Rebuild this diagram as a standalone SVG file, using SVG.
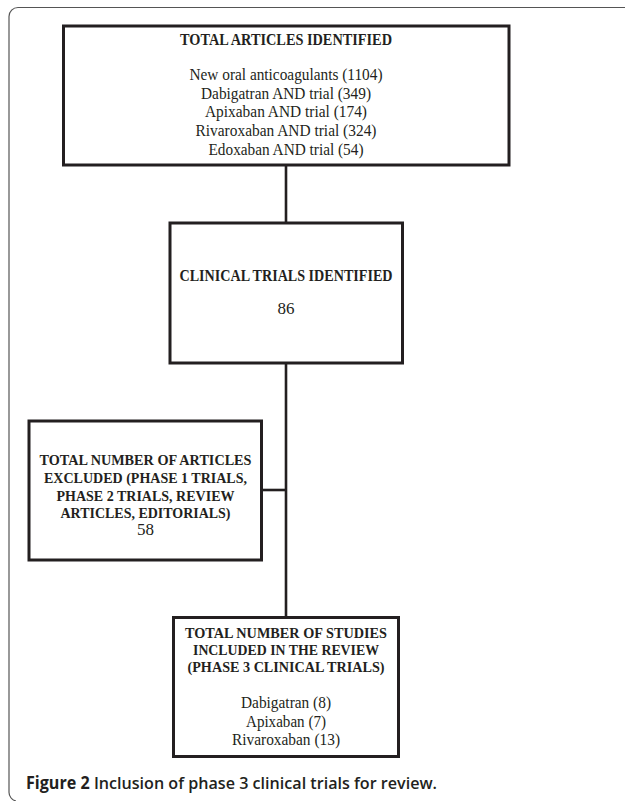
<svg xmlns="http://www.w3.org/2000/svg" width="625" height="801" viewBox="0 0 625 801">
<style>
.box{fill:#fff;stroke:#231f20;stroke-width:3}
.con{fill:none;stroke:#231f20;stroke-width:2.6}
.frame{fill:none;stroke:#555;stroke-width:1.2}
.b{font-family:"Liberation Serif","Times New Roman",serif;font-weight:bold;font-size:17px;fill:#231f20;text-anchor:middle}
.bs{font-size:15.5px}
.r{font-family:"Liberation Serif","Times New Roman",serif;font-size:17px;fill:#231f20;text-anchor:middle}
.cap{font-family:"Open Sans","Noto Sans",sans-serif;font-size:17px;font-weight:600;fill:#231f20}
</style>
<rect width="625" height="801" fill="#fff"/>
<path class="frame" d="M625,7.5 H18 A9,9 0 0 0 9,16.5 V792 A9,9 0 0 0 16,801"/>
<g id="connectors">
<line class="con" x1="286" y1="165" x2="286" y2="223"/>
<line class="con" x1="286" y1="363" x2="286" y2="617"/>
<line class="con" x1="261.5" y1="490" x2="286" y2="490"/>
</g>
<g id="total-articles">
<rect class="box" x="63.5" y="26" width="445.5" height="139"/>
<text class="b" x="286" y="45" textLength="212" lengthAdjust="spacingAndGlyphs">TOTAL ARTICLES IDENTIFIED</text>
<text class="r" x="286" y="80" textLength="193" lengthAdjust="spacingAndGlyphs">New oral anticoagulants (1104)</text>
<text class="r" x="286" y="98.5" textLength="170" lengthAdjust="spacingAndGlyphs">Dabigatran AND trial (349)</text>
<text class="r" x="286" y="117" textLength="162" lengthAdjust="spacingAndGlyphs">Apixaban AND trial (174)</text>
<text class="r" x="286" y="136" textLength="181" lengthAdjust="spacingAndGlyphs">Rivaroxaban AND trial (324)</text>
<text class="r" x="286" y="155" textLength="155" lengthAdjust="spacingAndGlyphs">Edoxaban AND trial (54)</text>
</g>
<g id="clinical-trials">
<rect class="box" x="170" y="223" width="232.5" height="140"/>
<text class="b" x="286" y="281" textLength="213" lengthAdjust="spacingAndGlyphs">CLINICAL TRIALS IDENTIFIED</text>
<text class="r" x="286" y="314">86</text>
</g>
<g id="excluded">
<rect class="box" x="29" y="421" width="232.5" height="139"/>
<text class="b bs" x="145.5" y="465" textLength="212" lengthAdjust="spacingAndGlyphs">TOTAL NUMBER OF ARTICLES</text>
<text class="b bs" x="145.5" y="483" textLength="203" lengthAdjust="spacingAndGlyphs">EXCLUDED (PHASE 1 TRIALS,</text>
<text class="b bs" x="145.5" y="500.5" textLength="178" lengthAdjust="spacingAndGlyphs">PHASE 2 TRIALS, REVIEW</text>
<text class="b bs" x="145.5" y="518" textLength="170" lengthAdjust="spacingAndGlyphs">ARTICLES, EDITORIALS)</text>
<text class="r" x="145.5" y="535">58</text>
</g>
<g id="included">
<rect class="box" x="173.5" y="617.5" width="225" height="139"/>
<text class="b bs" x="286" y="638" textLength="202" lengthAdjust="spacingAndGlyphs">TOTAL NUMBER OF STUDIES</text>
<text class="b bs" x="286" y="655" textLength="186" lengthAdjust="spacingAndGlyphs">INCLUDED IN THE REVIEW</text>
<text class="b bs" x="286" y="672" textLength="197" lengthAdjust="spacingAndGlyphs">(PHASE 3 CLINICAL TRIALS)</text>
<text class="r" x="286" y="707.5" textLength="90" lengthAdjust="spacingAndGlyphs">Dabigatran (8)</text>
<text class="r" x="286" y="726.5" textLength="80" lengthAdjust="spacingAndGlyphs">Apixaban (7)</text>
<text class="r" x="286" y="745" textLength="108" lengthAdjust="spacingAndGlyphs">Rivaroxaban (13)</text>
</g>
<text class="cap" x="26" y="788.5" textLength="411" lengthAdjust="spacingAndGlyphs"><tspan font-weight="bold">Figure 2</tspan> Inclusion of phase 3 clinical trials for review.</text>
</svg>
